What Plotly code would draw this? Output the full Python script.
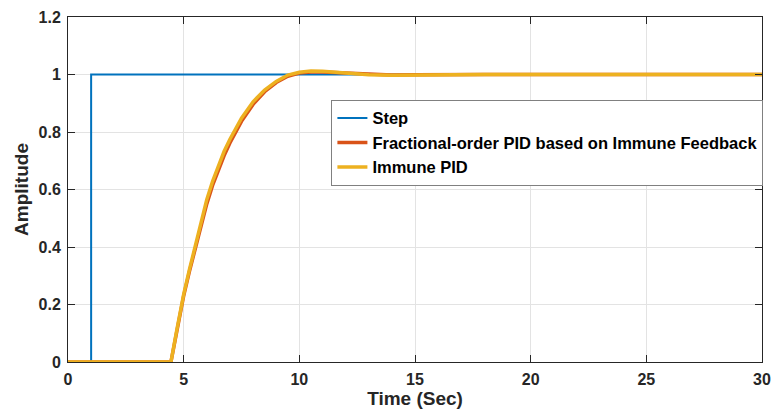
import plotly.graph_objects as go

# Unit step input
step_t = [0, 1, 1, 30]
step_y = [0, 0, 1, 1]

# Closed-loop step responses (dead time ~4.45 s)
resp_t = [0, 4.45, 4.7, 5.0, 5.25, 5.5, 5.75, 6.0, 6.25, 6.5, 6.75, 7.0, 7.5,
          8.0, 8.5, 9.0, 9.5, 10.0, 10.5, 11.0, 11.5, 12.0, 13.0, 14.0, 15.0,
          16.0, 18.0, 20.0, 25.0, 30.0]
fopid_y = [0, 0, 0.105, 0.230, 0.315, 0.395, 0.476, 0.550, 0.614, 0.670, 0.718,
           0.762, 0.837, 0.896, 0.940, 0.972, 0.994, 1.005, 1.009, 1.009, 1.007,
           1.004, 1.000, 0.998, 0.999, 1.000, 1.000, 1.000, 1.000, 1.000]
immune_y = [0, 0, 0.110, 0.235, 0.322, 0.405, 0.488, 0.565, 0.628, 0.685, 0.733,
            0.775, 0.848, 0.905, 0.946, 0.976, 0.998, 1.008, 1.012, 1.011, 1.008,
            1.004, 0.999, 0.997, 0.998, 0.999, 1.000, 1.000, 1.000, 1.000]

names = ["Step", "Fractional-order PID based on Immune Feedback", "Immune PID"]
colors = ["#0072BD", "#D95319", "#EDB120"]

x_ticks = [0, 5, 10, 15, 20, 25, 30]
y_ticks = [0, 0.2, 0.4, 0.6, 0.8, 1.0, 1.2]
y_tick_text = ["0", "0.2", "0.4", "0.6", "0.8", "1", "1.2"]

FONT = "Liberation Sans, Arial, sans-serif"
INK = "#262626"

fig = go.Figure()
fig.add_trace(go.Scatter(x=step_t, y=step_y, mode="lines", name=names[0],
                         line=dict(color=colors[0], width=2)))
fig.add_trace(go.Scatter(x=resp_t, y=fopid_y, mode="lines", name=names[1],
                         line=dict(color=colors[1], width=3.5)))
fig.add_trace(go.Scatter(x=resp_t, y=immune_y, mode="lines", name=names[2],
                         line=dict(color=colors[2], width=3.5)))

axis_common = dict(
    showline=True, linecolor=INK, linewidth=1, mirror="ticks",
    ticks="inside", ticklen=7, tickcolor=INK, tickwidth=1,
    showgrid=True, gridcolor="#e3e3e3", gridwidth=1, zeroline=False,
    automargin=False,
    tickfont=dict(family=FONT, size=16, color=INK, weight="bold"),
)

fig.update_xaxes(range=[0, 30], tickvals=x_ticks,
                 title=dict(text="Time (Sec)", standoff=3,
                            font=dict(family=FONT, size=19, color=INK, weight="bold")),
                 ticklabelstandoff=3, **axis_common)
fig.update_yaxes(range=[0, 1.2], tickvals=y_ticks, ticktext=y_tick_text,
                 title=dict(text="Amplitude", standoff=4,
                            font=dict(family=FONT, size=19, color=INK, weight="bold")),
                 ticklabelstandoff=3, **axis_common)

fig.update_layout(
    width=775, height=416,
    margin=dict(l=68, r=12, t=17, b=54),
    paper_bgcolor="white", plot_bgcolor="white",
    font=dict(family=FONT, color="black"),
    legend=dict(
        x=0.379, y=0.76, xanchor="left", yanchor="top",
        bgcolor="white", bordercolor="#808080", borderwidth=1,
        font=dict(family=FONT, size=16.5, color="black", weight="bold"),
        itemwidth=30, tracegroupgap=0,
    ),
    showlegend=True,
)

fig.write_html("out.html")
